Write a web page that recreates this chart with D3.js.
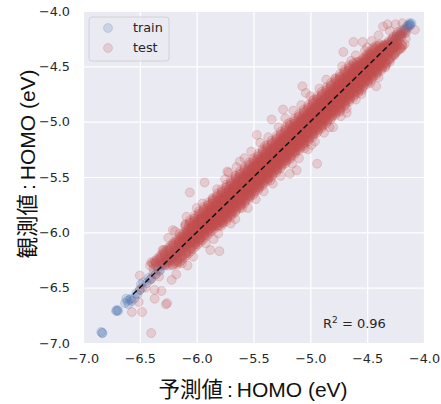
<!DOCTYPE html>
<html><head><meta charset="utf-8">
<script src="https://cdn.jsdelivr.net/npm/d3@7"></script>
<style>body{margin:0;background:#fff}</style>
</head><body>
<script>
// ---- data ----
const xTicks = [-7.0,-6.5,-6.0,-5.5,-5.0,-4.5,-4.0];
const yTicks = [-7.0,-6.5,-6.0,-5.5,-5.0,-4.5,-4.0];
const xLabelParts = ["予測値", ":", "HOMO (eV)"];
const yLabelParts = ["観測値", ":", "HOMO (eV)"];
const seriesNames = ["train","test"];
const r2Text = "0.96";
const diagRange = [-6.56,-4.28];
// train: [predicted, observed]
const trainPts = [[-6.83,-6.91],[-6.83,-6.91],[-6.84,-6.90],[-6.71,-6.71],[-6.69,-6.71],[-6.70,-6.70],[-6.70,-6.71],[-6.63,-6.64],[-6.61,-6.62],[-6.59,-6.61],[-6.62,-6.60],[-6.57,-6.62],[-6.60,-6.65],[-6.55,-6.60],[-6.58,-6.60],[-6.52,-6.56],[-6.50,-6.52],[-6.48,-6.50],[-6.47,-6.45],[-6.44,-6.46],[-6.42,-6.41],[-6.40,-6.42],[-6.38,-6.37],[-6.36,-6.38],[-6.34,-6.33],[-6.32,-6.34],[-6.30,-6.29],[-6.28,-6.30],[-6.26,-6.25],[-6.24,-6.26],[-6.22,-6.21],[-6.20,-6.22],[-6.18,-6.17],[-6.16,-6.18],[-6.14,-6.13],[-6.12,-6.14],[-6.10,-6.09],[-6.08,-6.10],[-6.06,-6.05],[-6.04,-6.06],[-6.02,-6.01],[-6.00,-6.02],[-5.97,-5.96],[-5.94,-5.95],[-5.90,-5.89],[-5.86,-5.87],[-5.80,-5.80],[-5.75,-5.76],[-5.70,-5.69],[-5.60,-5.61],[-5.50,-5.50],[-5.40,-5.41],[-5.30,-5.29],[-5.20,-5.21],[-5.10,-5.10],[-5.00,-5.01],[-4.90,-4.89],[-4.80,-4.81],[-4.70,-4.70],[-4.60,-4.61],[-4.50,-4.49],[-4.45,-4.46],[-4.40,-4.40],[-4.36,-4.37],[-4.33,-4.32],[-4.30,-4.31],[-4.28,-4.27],[-4.26,-4.27],[-4.24,-4.23],[-4.22,-4.23],[-4.20,-4.20],[-4.18,-4.17],[-4.16,-4.17],[-4.15,-4.14],[-4.13,-4.13],[-4.12,-4.12],[-4.11,-4.11],[-4.12,-4.13],[-4.14,-4.15],[-4.13,-4.11],[-6.53,-6.55],[-6.49,-6.47],[-6.41,-6.43],[-6.33,-6.35],[-6.25,-6.24],[-6.19,-6.20],[-6.11,-6.12],[-6.03,-6.04],[-4.25,-4.25],[-4.21,-4.22],[-4.17,-4.16],[-4.14,-4.13]];
// test rows (medium spread): [observed, [predicted values at that observed value]]
const testRows = [
[-6.30,[-6.36,-6.30,-6.25]],[-6.29,[-6.32,-6.27,-6.21]],[-6.28,[-6.36,-6.30,-6.25]],[-6.27,[-6.31,-6.26,-6.17]],
[-6.26,[-6.32,-6.26,-6.21]],[-6.25,[-6.28,-6.23,-6.17]],[-6.24,[-6.32,-6.26,-6.21]],[-6.23,[-6.27,-6.22,-6.13]],
[-6.22,[-6.28,-6.22,-6.17]],[-6.21,[-6.24,-6.19,-6.13]],[-6.20,[-6.28,-6.22,-6.17]],[-6.19,[-6.23,-6.18,-6.09]],
[-6.18,[-6.24,-6.18,-6.13]],[-6.17,[-6.20,-6.15,-6.09]],[-6.16,[-6.24,-6.18,-6.13]],[-6.15,[-6.19,-6.14,-6.05]],
[-6.14,[-6.20,-6.14,-6.09]],[-6.13,[-6.16,-6.11,-6.05]],[-6.12,[-6.20,-6.14,-6.09]],[-6.11,[-6.15,-6.10,-6.01]],
[-6.10,[-6.16,-6.10,-6.05]],[-6.09,[-6.12,-6.07,-6.01]],[-6.08,[-6.16,-6.10,-6.05]],[-6.07,[-6.11,-6.06,-5.97]],
[-6.06,[-6.12,-6.06,-6.01]],[-6.05,[-6.08,-6.03,-5.97]],[-6.04,[-6.12,-6.06,-6.01]],[-6.03,[-6.07,-6.02,-5.93]],
[-6.02,[-6.08,-6.02,-5.97]],[-6.01,[-6.04,-5.99,-5.93]],[-6.00,[-6.08,-6.02,-5.97]],[-5.99,[-6.03,-5.98,-5.89]],
[-5.98,[-6.04,-5.98,-5.93]],[-5.97,[-6.00,-5.95,-5.89]],[-5.96,[-6.04,-5.98,-5.93]],
[-5.95,[-6.04,-5.99,-5.96,-5.93,-5.90,-5.85]],[-5.94,[-6.00,-5.97,-5.94,-5.91,-5.87,-5.82]],[-5.93,[-6.04,-5.98,-5.95,-5.92,-5.89,-5.85]],
[-5.92,[-5.99,-5.94,-5.91,-5.88,-5.86,-5.83]],[-5.91,[-5.99,-5.96,-5.92,-5.88,-5.85,-5.78]],[-5.90,[-6.02,-5.96,-5.93,-5.90,-5.88,-5.83]],
[-5.89,[-5.94,-5.91,-5.87,-5.84,-5.81,-5.78]],[-5.88,[-5.98,-5.95,-5.91,-5.87,-5.84,-5.82]],[-5.87,[-5.96,-5.91,-5.88,-5.85,-5.82,-5.77]],
[-5.86,[-5.92,-5.89,-5.86,-5.83,-5.79,-5.74]],[-5.85,[-5.96,-5.90,-5.87,-5.84,-5.81,-5.77]],[-5.84,[-5.91,-5.86,-5.83,-5.80,-5.78,-5.75]],
[-5.83,[-5.91,-5.88,-5.84,-5.80,-5.77,-5.70]],[-5.82,[-5.94,-5.88,-5.85,-5.82,-5.80,-5.75]],[-5.81,[-5.86,-5.83,-5.79,-5.76,-5.73,-5.70]],
[-5.80,[-5.90,-5.87,-5.83,-5.79,-5.76,-5.74]],[-5.79,[-5.88,-5.83,-5.80,-5.77,-5.74,-5.69]],[-5.78,[-5.84,-5.81,-5.78,-5.75,-5.71,-5.66]],
[-5.77,[-5.88,-5.82,-5.79,-5.76,-5.73,-5.69]],[-5.76,[-5.83,-5.78,-5.75,-5.72,-5.70,-5.67]],[-5.75,[-5.83,-5.80,-5.76,-5.72,-5.69,-5.62]],
[-5.74,[-5.86,-5.80,-5.77,-5.74,-5.72,-5.67]],[-5.73,[-5.78,-5.75,-5.71,-5.68,-5.65,-5.62]],[-5.72,[-5.82,-5.79,-5.75,-5.71,-5.68,-5.66]],
[-5.71,[-5.80,-5.75,-5.72,-5.69,-5.66,-5.61]],[-5.70,[-5.76,-5.73,-5.70,-5.67,-5.63,-5.58]],[-5.69,[-5.80,-5.74,-5.71,-5.68,-5.65,-5.61]],
[-5.68,[-5.75,-5.70,-5.67,-5.64,-5.62,-5.59]],[-5.67,[-5.75,-5.72,-5.68,-5.64,-5.61,-5.54]],[-5.66,[-5.78,-5.72,-5.69,-5.66,-5.64,-5.59]],
[-5.65,[-5.70,-5.67,-5.63,-5.60,-5.57,-5.54]],[-5.64,[-5.74,-5.71,-5.67,-5.63,-5.60,-5.58]],[-5.63,[-5.72,-5.67,-5.64,-5.61,-5.58,-5.53]],
[-5.62,[-5.68,-5.65,-5.62,-5.59,-5.55,-5.50]],[-5.61,[-5.72,-5.66,-5.63,-5.60,-5.57,-5.53]],[-5.60,[-5.67,-5.62,-5.59,-5.56,-5.54,-5.51]],
[-5.59,[-5.67,-5.64,-5.60,-5.56,-5.53,-5.46]],[-5.58,[-5.70,-5.64,-5.61,-5.58,-5.56,-5.51]],[-5.57,[-5.62,-5.59,-5.55,-5.52,-5.49,-5.46]],
[-5.56,[-5.66,-5.63,-5.59,-5.55,-5.52,-5.50]],[-5.55,[-5.64,-5.59,-5.56,-5.53,-5.50,-5.45]],[-5.54,[-5.60,-5.57,-5.54,-5.51,-5.47,-5.42]],
[-5.53,[-5.64,-5.58,-5.55,-5.52,-5.49,-5.45]],[-5.52,[-5.59,-5.54,-5.51,-5.48,-5.46,-5.43]],[-5.51,[-5.59,-5.56,-5.52,-5.48,-5.45,-5.38]],
[-5.50,[-5.62,-5.56,-5.53,-5.50,-5.48,-5.43]],[-5.49,[-5.54,-5.51,-5.47,-5.44,-5.41,-5.38]],[-5.48,[-5.58,-5.55,-5.51,-5.47,-5.44,-5.42]],
[-5.47,[-5.56,-5.51,-5.48,-5.45,-5.42,-5.37]],[-5.46,[-5.52,-5.49,-5.46,-5.43,-5.39,-5.34]],[-5.45,[-5.56,-5.50,-5.47,-5.44,-5.41,-5.37]],
[-5.44,[-5.51,-5.46,-5.43,-5.40,-5.38,-5.35]],[-5.43,[-5.51,-5.48,-5.44,-5.40,-5.37,-5.30]],[-5.42,[-5.54,-5.48,-5.45,-5.42,-5.40,-5.35]],
[-5.41,[-5.46,-5.43,-5.39,-5.36,-5.33,-5.30]],[-5.40,[-5.50,-5.47,-5.43,-5.39,-5.36,-5.34]],[-5.39,[-5.48,-5.43,-5.40,-5.37,-5.34,-5.29]],
[-5.38,[-5.44,-5.41,-5.38,-5.35,-5.31,-5.26]],[-5.37,[-5.48,-5.42,-5.39,-5.36,-5.33,-5.29]],[-5.36,[-5.43,-5.38,-5.35,-5.32,-5.30,-5.27]],
[-5.35,[-5.43,-5.40,-5.36,-5.32,-5.29,-5.22]],[-5.34,[-5.46,-5.40,-5.37,-5.34,-5.32,-5.27]],[-5.33,[-5.38,-5.35,-5.31,-5.28,-5.25,-5.22]],
[-5.32,[-5.42,-5.39,-5.35,-5.31,-5.28,-5.26]],[-5.31,[-5.40,-5.35,-5.32,-5.29,-5.26,-5.21]],[-5.30,[-5.36,-5.33,-5.30,-5.27,-5.23,-5.18]],
[-5.29,[-5.40,-5.34,-5.31,-5.28,-5.25,-5.21]],[-5.28,[-5.35,-5.30,-5.27,-5.24,-5.22,-5.19]],[-5.27,[-5.35,-5.32,-5.28,-5.24,-5.21,-5.14]],
[-5.26,[-5.38,-5.32,-5.29,-5.26,-5.24,-5.19]],[-5.25,[-5.30,-5.27,-5.23,-5.20,-5.17,-5.14]],[-5.24,[-5.34,-5.31,-5.27,-5.23,-5.20,-5.18]],
[-5.23,[-5.32,-5.27,-5.24,-5.21,-5.18,-5.13]],[-5.22,[-5.28,-5.25,-5.22,-5.19,-5.15,-5.10]],[-5.21,[-5.32,-5.26,-5.23,-5.20,-5.17,-5.13]],
[-5.20,[-5.27,-5.22,-5.19,-5.16,-5.14,-5.11]],[-5.19,[-5.27,-5.24,-5.20,-5.16,-5.13,-5.06]],[-5.18,[-5.30,-5.24,-5.21,-5.18,-5.16,-5.11]],
[-5.17,[-5.22,-5.19,-5.15,-5.12,-5.09,-5.06]],[-5.16,[-5.26,-5.23,-5.19,-5.15,-5.12,-5.10]],[-5.15,[-5.24,-5.19,-5.16,-5.13,-5.10,-5.05]],
[-5.14,[-5.20,-5.17,-5.14,-5.11,-5.07,-5.02]],[-5.13,[-5.24,-5.18,-5.15,-5.12,-5.09,-5.05]],[-5.12,[-5.19,-5.14,-5.11,-5.08,-5.06,-5.03]],
[-5.11,[-5.19,-5.16,-5.12,-5.08,-5.05,-4.98]],[-5.10,[-5.22,-5.16,-5.13,-5.10,-5.08,-5.03]],[-5.09,[-5.14,-5.11,-5.07,-5.04,-5.01,-4.98]],
[-5.08,[-5.18,-5.15,-5.11,-5.07,-5.04,-5.02]],[-5.07,[-5.16,-5.11,-5.08,-5.05,-5.02,-4.97]],[-5.06,[-5.12,-5.09,-5.06,-5.03,-4.99,-4.94]],
[-5.05,[-5.16,-5.10,-5.07,-5.04,-5.01,-4.97]],[-5.04,[-5.11,-5.06,-5.03,-5.00,-4.98,-4.95]],[-5.03,[-5.11,-5.08,-5.04,-5.00,-4.97,-4.90]],
[-5.02,[-5.14,-5.08,-5.05,-5.02,-5.00,-4.95]],[-5.01,[-5.06,-5.03,-4.99,-4.96,-4.93,-4.90]],[-5.00,[-5.10,-5.07,-5.03,-4.99,-4.96,-4.94]],
[-4.99,[-5.08,-5.03,-5.00,-4.97,-4.94,-4.89]],[-4.98,[-5.04,-5.01,-4.98,-4.95,-4.91,-4.86]],[-4.97,[-5.08,-5.02,-4.99,-4.96,-4.93,-4.89]],
[-4.96,[-5.03,-4.98,-4.95,-4.92,-4.90,-4.87]],[-4.95,[-5.03,-5.00,-4.96,-4.92,-4.89,-4.82]],[-4.94,[-5.06,-5.00,-4.97,-4.94,-4.92,-4.87]],
[-4.93,[-4.98,-4.95,-4.91,-4.88,-4.85,-4.82]],[-4.92,[-5.02,-4.99,-4.95,-4.91,-4.88,-4.86]],[-4.91,[-5.00,-4.95,-4.92,-4.89,-4.86,-4.81]],
[-4.90,[-4.96,-4.93,-4.90,-4.87,-4.83,-4.78]],[-4.89,[-5.00,-4.94,-4.91,-4.88,-4.85,-4.81]],[-4.88,[-4.95,-4.90,-4.87,-4.84,-4.82,-4.79]],
[-4.87,[-4.95,-4.92,-4.88,-4.84,-4.81,-4.74]],[-4.86,[-4.98,-4.92,-4.89,-4.86,-4.84,-4.79]],[-4.85,[-4.90,-4.87,-4.83,-4.80,-4.77,-4.74]],
[-4.84,[-4.94,-4.91,-4.87,-4.83,-4.80,-4.78]],[-4.83,[-4.92,-4.87,-4.84,-4.81,-4.78,-4.73]],[-4.82,[-4.88,-4.85,-4.82,-4.79,-4.75,-4.70]],
[-4.81,[-4.92,-4.86,-4.83,-4.80,-4.77,-4.73]],[-4.80,[-4.87,-4.82,-4.79,-4.76,-4.74,-4.71]],[-4.79,[-4.87,-4.84,-4.80,-4.76,-4.73,-4.66]],
[-4.78,[-4.90,-4.84,-4.81,-4.78,-4.76,-4.71]],[-4.77,[-4.82,-4.79,-4.75,-4.72,-4.69,-4.66]],[-4.76,[-4.86,-4.83,-4.79,-4.75,-4.72,-4.70]],
[-4.75,[-4.84,-4.79,-4.76,-4.73,-4.70,-4.65]],[-4.74,[-4.80,-4.77,-4.74,-4.71,-4.67,-4.62]],[-4.73,[-4.84,-4.78,-4.75,-4.72,-4.69,-4.65]],
[-4.72,[-4.79,-4.74,-4.71,-4.68,-4.66,-4.63]],[-4.71,[-4.79,-4.76,-4.72,-4.68,-4.65,-4.58]],[-4.70,[-4.82,-4.76,-4.73,-4.70,-4.68,-4.63]],
[-4.69,[-4.74,-4.71,-4.67,-4.64,-4.61,-4.58]],[-4.68,[-4.78,-4.75,-4.71,-4.67,-4.64,-4.62]],[-4.67,[-4.76,-4.71,-4.68,-4.65,-4.62,-4.57]],
[-4.66,[-4.72,-4.69,-4.66,-4.63,-4.59,-4.54]],[-4.65,[-4.76,-4.70,-4.67,-4.64,-4.61,-4.57]],[-4.64,[-4.71,-4.66,-4.63,-4.60,-4.58,-4.55]],
[-4.63,[-4.71,-4.68,-4.64,-4.60,-4.57,-4.50]],[-4.62,[-4.74,-4.68,-4.65,-4.62,-4.60,-4.55]],[-4.61,[-4.66,-4.63,-4.59,-4.56,-4.53,-4.50]],
[-4.60,[-4.70,-4.67,-4.63,-4.59,-4.56,-4.54]],[-4.59,[-4.68,-4.63,-4.60,-4.57,-4.54,-4.49]],[-4.58,[-4.64,-4.61,-4.58,-4.55,-4.51,-4.46]],
[-4.57,[-4.68,-4.62,-4.59,-4.56,-4.53,-4.49]],[-4.56,[-4.63,-4.58,-4.55,-4.52,-4.50,-4.47]],[-4.55,[-4.63,-4.60,-4.56,-4.52,-4.49,-4.42]],
[-4.54,[-4.66,-4.60,-4.57,-4.54,-4.52,-4.47]],[-4.53,[-4.58,-4.55,-4.51,-4.48,-4.45,-4.42]],[-4.52,[-4.62,-4.59,-4.55,-4.51,-4.48,-4.46]],
[-4.51,[-4.60,-4.55,-4.52,-4.49,-4.46,-4.41]],[-4.50,[-4.56,-4.53,-4.50,-4.47,-4.43,-4.38]],[-4.49,[-4.60,-4.54,-4.51,-4.48,-4.45,-4.41]],
[-4.48,[-4.55,-4.50,-4.47,-4.44,-4.42,-4.39]],[-4.47,[-4.55,-4.52,-4.48,-4.44,-4.41,-4.34]],[-4.46,[-4.58,-4.52,-4.49,-4.46,-4.44,-4.39]],
[-4.45,[-4.51,-4.47,-4.43,-4.39]],[-4.44,[-4.48,-4.44,-4.41,-4.36]],[-4.43,[-4.51,-4.46,-4.42,-4.39]],[-4.42,[-4.47,-4.43,-4.38,-4.35]],
[-4.41,[-4.47,-4.43,-4.39,-4.35]],[-4.40,[-4.44,-4.40,-4.37,-4.32]],[-4.39,[-4.47,-4.42,-4.38,-4.35]],[-4.38,[-4.43,-4.39,-4.34,-4.31]],
[-4.37,[-4.43,-4.39,-4.35,-4.31]],[-4.36,[-4.40,-4.36,-4.33,-4.28]],[-4.35,[-4.43,-4.38,-4.34,-4.31]],[-4.34,[-4.39,-4.35,-4.30,-4.27]],
[-4.33,[-4.39,-4.35,-4.31,-4.27]],[-4.32,[-4.36,-4.32,-4.29,-4.24]],[-4.31,[-4.39,-4.34,-4.30,-4.27]],[-4.30,[-4.35,-4.31,-4.26,-4.23]],
[-4.29,[-4.32,-4.27]],[-4.28,[-4.24,-4.29]],[-4.27,[-4.31,-4.24]],[-4.26,[-4.25,-4.28]],[-4.25,[-4.28,-4.23]],[-4.24,[-4.20,-4.25]],
[-4.23,[-4.27,-4.20]],[-4.22,[-4.21,-4.24]],[-4.21,[-4.24,-4.19]],[-4.20,[-4.16,-4.21]],[-4.19,[-4.23,-4.16]],[-4.18,[-4.17,-4.20]]
];
// test rows (wider spread part): [observed, [predicted values]]
const testRowsWide = [
[-6.30,[-6.41,-6.21]],[-6.29,[-6.38,-6.17]],[-6.28,[-6.39,-6.19]],[-6.27,[-6.36,-6.15]],[-6.26,[-6.37,-6.17]],[-6.25,[-6.34,-6.13]],
[-6.24,[-6.35,-6.15]],[-6.23,[-6.32,-6.11]],[-6.22,[-6.33,-6.13]],[-6.21,[-6.30,-6.09]],[-6.20,[-6.31,-6.11]],[-6.19,[-6.28,-6.07]],
[-6.18,[-6.29,-6.09]],[-6.17,[-6.26,-6.05]],[-6.16,[-6.27,-6.07]],[-6.15,[-6.24,-6.03]],[-6.14,[-6.25,-6.05]],[-6.13,[-6.22,-6.01]],
[-6.12,[-6.23,-6.03]],[-6.11,[-6.20,-5.99]],[-6.10,[-6.21,-6.01]],[-6.09,[-6.18,-5.97]],[-6.08,[-6.19,-5.99]],[-6.07,[-6.16,-5.95]],
[-6.06,[-6.17,-5.97]],[-6.05,[-6.14,-5.93]],[-6.04,[-6.15,-5.95]],[-6.03,[-6.12,-5.91]],[-6.02,[-6.13,-5.93]],[-6.01,[-6.10,-5.89]],
[-6.00,[-6.11,-5.91]],[-5.99,[-6.08,-5.87]],[-5.98,[-6.09,-5.89]],[-5.97,[-6.06,-5.85]],[-5.96,[-6.07,-5.87]],
[-5.95,[-6.10,-6.04,-5.99,-5.91,-5.86,-5.81]],[-5.94,[-6.07,-6.01,-5.96,-5.88,-5.83,-5.78]],[-5.93,[-6.10,-6.03,-5.98,-5.91,-5.85,-5.80]],[-5.92,[-6.06,-6.00,-5.95,-5.89,-5.82,-5.77]],
[-5.91,[-6.06,-6.00,-5.95,-5.87,-5.82,-5.77]],[-5.90,[-6.03,-5.97,-5.92,-5.84,-5.79,-5.74]],[-5.89,[-6.06,-5.99,-5.94,-5.87,-5.81,-5.76]],[-5.88,[-6.02,-5.96,-5.91,-5.85,-5.78,-5.73]],
[-5.87,[-6.02,-5.96,-5.91,-5.83,-5.78,-5.73]],[-5.86,[-5.99,-5.93,-5.88,-5.80,-5.75,-5.70]],[-5.85,[-6.02,-5.95,-5.90,-5.83,-5.77,-5.72]],[-5.84,[-5.98,-5.92,-5.87,-5.81,-5.74,-5.69]],
[-5.83,[-5.98,-5.92,-5.87,-5.79,-5.74,-5.69]],[-5.82,[-5.95,-5.89,-5.84,-5.76,-5.71,-5.66]],[-5.81,[-5.98,-5.91,-5.86,-5.79,-5.73,-5.68]],[-5.80,[-5.94,-5.88,-5.83,-5.77,-5.70,-5.65]],
[-5.79,[-5.94,-5.88,-5.83,-5.75,-5.70,-5.65]],[-5.78,[-5.91,-5.85,-5.80,-5.72,-5.67,-5.62]],[-5.77,[-5.94,-5.87,-5.82,-5.75,-5.69,-5.64]],[-5.76,[-5.90,-5.84,-5.79,-5.73,-5.66,-5.61]],
[-5.75,[-5.90,-5.84,-5.79,-5.71,-5.66,-5.61]],[-5.74,[-5.87,-5.81,-5.76,-5.68,-5.63,-5.58]],[-5.73,[-5.90,-5.83,-5.78,-5.71,-5.65,-5.60]],[-5.72,[-5.86,-5.80,-5.75,-5.69,-5.62,-5.57]],
[-5.71,[-5.86,-5.80,-5.75,-5.67,-5.62,-5.57]],[-5.70,[-5.83,-5.77,-5.72,-5.64,-5.59,-5.54]],[-5.69,[-5.86,-5.79,-5.74,-5.67,-5.61,-5.56]],[-5.68,[-5.82,-5.76,-5.71,-5.65,-5.58,-5.53]],
[-5.67,[-5.82,-5.76,-5.71,-5.63,-5.58,-5.53]],[-5.66,[-5.79,-5.73,-5.68,-5.60,-5.55,-5.50]],[-5.65,[-5.82,-5.75,-5.70,-5.63,-5.57,-5.52]],[-5.64,[-5.78,-5.72,-5.67,-5.61,-5.54,-5.49]],
[-5.63,[-5.78,-5.72,-5.67,-5.59,-5.54,-5.49]],[-5.62,[-5.75,-5.69,-5.64,-5.56,-5.51,-5.46]],[-5.61,[-5.78,-5.71,-5.66,-5.59,-5.53,-5.48]],[-5.60,[-5.74,-5.68,-5.63,-5.57,-5.50,-5.45]],
[-5.59,[-5.74,-5.68,-5.63,-5.55,-5.50,-5.45]],[-5.58,[-5.71,-5.65,-5.60,-5.52,-5.47,-5.42]],[-5.57,[-5.74,-5.67,-5.62,-5.55,-5.49,-5.44]],[-5.56,[-5.70,-5.64,-5.59,-5.53,-5.46,-5.41]],
[-5.55,[-5.70,-5.64,-5.59,-5.51,-5.46,-5.41]],[-5.54,[-5.67,-5.61,-5.56,-5.48,-5.43,-5.38]],[-5.53,[-5.70,-5.63,-5.58,-5.51,-5.45,-5.40]],[-5.52,[-5.66,-5.60,-5.55,-5.49,-5.42,-5.37]],
[-5.51,[-5.66,-5.60,-5.55,-5.47,-5.42,-5.37]],[-5.50,[-5.63,-5.57,-5.52,-5.44,-5.39,-5.34]],[-5.49,[-5.66,-5.59,-5.54,-5.47,-5.41,-5.36]],[-5.48,[-5.62,-5.56,-5.51,-5.45,-5.38,-5.33]],
[-5.47,[-5.62,-5.56,-5.51,-5.43,-5.38,-5.33]],[-5.46,[-5.59,-5.53,-5.48,-5.40,-5.35,-5.30]],[-5.45,[-5.62,-5.55,-5.50,-5.43,-5.37,-5.32]],[-5.44,[-5.58,-5.52,-5.47,-5.41,-5.34,-5.29]],
[-5.43,[-5.58,-5.52,-5.47,-5.39,-5.34,-5.29]],[-5.42,[-5.55,-5.49,-5.44,-5.36,-5.31,-5.26]],[-5.41,[-5.58,-5.51,-5.46,-5.39,-5.33,-5.28]],[-5.40,[-5.54,-5.48,-5.43,-5.37,-5.30,-5.25]],
[-5.39,[-5.54,-5.48,-5.43,-5.35,-5.30,-5.25]],[-5.38,[-5.51,-5.45,-5.40,-5.32,-5.27,-5.22]],[-5.37,[-5.54,-5.47,-5.42,-5.35,-5.29,-5.24]],[-5.36,[-5.50,-5.44,-5.39,-5.33,-5.26,-5.21]],
[-5.35,[-5.50,-5.44,-5.39,-5.31,-5.26,-5.21]],[-5.34,[-5.47,-5.41,-5.36,-5.28,-5.23,-5.18]],[-5.33,[-5.50,-5.43,-5.38,-5.31,-5.25,-5.20]],[-5.32,[-5.46,-5.40,-5.35,-5.29,-5.22,-5.17]],
[-5.31,[-5.46,-5.40,-5.35,-5.27,-5.22,-5.17]],[-5.30,[-5.43,-5.37,-5.32,-5.24,-5.19,-5.14]],[-5.29,[-5.46,-5.39,-5.34,-5.27,-5.21,-5.16]],[-5.28,[-5.42,-5.36,-5.31,-5.25,-5.18,-5.13]],
[-5.27,[-5.42,-5.36,-5.31,-5.23,-5.18,-5.13]],[-5.26,[-5.39,-5.33,-5.28,-5.20,-5.15,-5.10]],[-5.25,[-5.42,-5.35,-5.30,-5.23,-5.17,-5.12]],[-5.24,[-5.38,-5.32,-5.27,-5.21,-5.14,-5.09]],
[-5.23,[-5.38,-5.32,-5.27,-5.19,-5.14,-5.09]],[-5.22,[-5.35,-5.29,-5.24,-5.16,-5.11,-5.06]],[-5.21,[-5.38,-5.31,-5.26,-5.19,-5.13,-5.08]],[-5.20,[-5.34,-5.28,-5.23,-5.17,-5.10,-5.05]],
[-5.19,[-5.34,-5.28,-5.23,-5.15,-5.10,-5.05]],[-5.18,[-5.31,-5.25,-5.20,-5.12,-5.07,-5.02]],[-5.17,[-5.34,-5.27,-5.22,-5.15,-5.09,-5.04]],[-5.16,[-5.30,-5.24,-5.19,-5.13,-5.06,-5.01]],
[-5.15,[-5.30,-5.24,-5.19,-5.11,-5.06,-5.01]],[-5.14,[-5.27,-5.21,-5.16,-5.08,-5.03,-4.98]],[-5.13,[-5.30,-5.23,-5.18,-5.11,-5.05,-5.00]],[-5.12,[-5.26,-5.20,-5.15,-5.09,-5.02,-4.97]],
[-5.11,[-5.26,-5.20,-5.15,-5.07,-5.02,-4.97]],[-5.10,[-5.23,-5.17,-5.12,-5.04,-4.99,-4.94]],[-5.09,[-5.26,-5.19,-5.14,-5.07,-5.01,-4.96]],[-5.08,[-5.22,-5.16,-5.11,-5.05,-4.98,-4.93]],
[-5.07,[-5.22,-5.16,-5.11,-5.03,-4.98,-4.93]],[-5.06,[-5.19,-5.13,-5.08,-5.00,-4.95,-4.90]],[-5.05,[-5.22,-5.15,-5.10,-5.03,-4.97,-4.92]],[-5.04,[-5.18,-5.12,-5.07,-5.01,-4.94,-4.89]],
[-5.03,[-5.18,-5.12,-5.07,-4.99,-4.94,-4.89]],[-5.02,[-5.15,-5.09,-5.04,-4.96,-4.91,-4.86]],[-5.01,[-5.18,-5.11,-5.06,-4.99,-4.93,-4.88]],[-5.00,[-5.14,-5.08,-5.03,-4.97,-4.90,-4.85]],
[-4.99,[-5.14,-5.08,-5.03,-4.95,-4.90,-4.85]],[-4.98,[-5.11,-5.05,-5.00,-4.92,-4.87,-4.82]],[-4.97,[-5.14,-5.07,-5.02,-4.95,-4.89,-4.84]],[-4.96,[-5.10,-5.04,-4.99,-4.93,-4.86,-4.81]],
[-4.95,[-5.10,-5.04,-4.99,-4.91,-4.86,-4.81]],[-4.94,[-5.07,-5.01,-4.96,-4.88,-4.83,-4.78]],[-4.93,[-5.10,-5.03,-4.98,-4.91,-4.85,-4.80]],[-4.92,[-5.06,-5.00,-4.95,-4.89,-4.82,-4.77]],
[-4.91,[-5.06,-5.00,-4.95,-4.87,-4.82,-4.77]],[-4.90,[-5.03,-4.97,-4.92,-4.84,-4.79,-4.74]],[-4.89,[-5.06,-4.99,-4.94,-4.87,-4.81,-4.76]],[-4.88,[-5.02,-4.96,-4.91,-4.85,-4.78,-4.73]],
[-4.87,[-5.02,-4.96,-4.91,-4.83,-4.78,-4.73]],[-4.86,[-4.99,-4.93,-4.88,-4.80,-4.75,-4.70]],[-4.85,[-5.02,-4.95,-4.90,-4.83,-4.77,-4.72]],[-4.84,[-4.98,-4.92,-4.87,-4.81,-4.74,-4.69]],
[-4.83,[-4.98,-4.92,-4.87,-4.79,-4.74,-4.69]],[-4.82,[-4.95,-4.89,-4.84,-4.76,-4.71,-4.66]],[-4.81,[-4.98,-4.91,-4.86,-4.79,-4.73,-4.68]],[-4.80,[-4.94,-4.88,-4.83,-4.77,-4.70,-4.65]],
[-4.79,[-4.94,-4.88,-4.83,-4.75,-4.70,-4.65]],[-4.78,[-4.91,-4.85,-4.80,-4.72,-4.67,-4.62]],[-4.77,[-4.94,-4.87,-4.82,-4.75,-4.69,-4.64]],[-4.76,[-4.90,-4.84,-4.79,-4.73,-4.66,-4.61]],
[-4.75,[-4.90,-4.84,-4.79,-4.71,-4.66,-4.61]],[-4.74,[-4.87,-4.81,-4.76,-4.68,-4.63,-4.58]],[-4.73,[-4.90,-4.83,-4.78,-4.71,-4.65,-4.60]],[-4.72,[-4.86,-4.80,-4.75,-4.69,-4.62,-4.57]],
[-4.71,[-4.86,-4.80,-4.75,-4.67,-4.62,-4.57]],[-4.70,[-4.83,-4.77,-4.72,-4.64,-4.59,-4.54]],[-4.69,[-4.86,-4.79,-4.74,-4.67,-4.61,-4.56]],[-4.68,[-4.82,-4.76,-4.71,-4.65,-4.58,-4.53]],
[-4.67,[-4.82,-4.76,-4.71,-4.63,-4.58,-4.53]],[-4.66,[-4.79,-4.73,-4.68,-4.60,-4.55,-4.50]],[-4.65,[-4.82,-4.75,-4.70,-4.63,-4.57,-4.52]],[-4.64,[-4.78,-4.72,-4.67,-4.61,-4.54,-4.49]],
[-4.63,[-4.78,-4.72,-4.67,-4.59,-4.54,-4.49]],[-4.62,[-4.75,-4.69,-4.64,-4.56,-4.51,-4.46]],[-4.61,[-4.78,-4.71,-4.66,-4.59,-4.53,-4.48]],[-4.60,[-4.74,-4.68,-4.63,-4.57,-4.50,-4.45]],
[-4.59,[-4.74,-4.68,-4.63,-4.55,-4.50,-4.45]],[-4.58,[-4.71,-4.65,-4.60,-4.52,-4.47,-4.42]],[-4.57,[-4.74,-4.67,-4.62,-4.55,-4.49,-4.44]],[-4.56,[-4.70,-4.64,-4.59,-4.53,-4.46,-4.41]],
[-4.55,[-4.70,-4.64,-4.59,-4.51,-4.46,-4.41]],[-4.54,[-4.67,-4.61,-4.56,-4.48,-4.43,-4.38]],[-4.53,[-4.70,-4.63,-4.58,-4.51,-4.45,-4.40]],[-4.52,[-4.66,-4.60,-4.55,-4.49,-4.42,-4.37]],
[-4.51,[-4.66,-4.60,-4.55,-4.47,-4.42,-4.37]],[-4.50,[-4.63,-4.57,-4.52,-4.44,-4.39,-4.34]],[-4.49,[-4.66,-4.59,-4.54,-4.47,-4.41,-4.36]],[-4.48,[-4.62,-4.56,-4.51,-4.45,-4.38,-4.33]],
[-4.47,[-4.62,-4.56,-4.51,-4.43,-4.38,-4.33]],[-4.46,[-4.59,-4.53,-4.48,-4.40,-4.35,-4.30]],
[-4.45,[-4.56,-4.49,-4.40,-4.33]],[-4.44,[-4.53,-4.46,-4.37,-4.31]],[-4.43,[-4.54,-4.47,-4.38,-4.31]],[-4.42,[-4.51,-4.44,-4.35,-4.29]],
[-4.41,[-4.52,-4.45,-4.36,-4.29]],[-4.40,[-4.49,-4.42,-4.33,-4.27]],[-4.39,[-4.50,-4.43,-4.34,-4.27]],[-4.38,[-4.47,-4.40,-4.31,-4.25]],
[-4.37,[-4.48,-4.41,-4.32,-4.25]],[-4.36,[-4.45,-4.38,-4.29,-4.23]],[-4.35,[-4.46,-4.39,-4.30,-4.23]],[-4.34,[-4.43,-4.36,-4.27,-4.21]],
[-4.33,[-4.44,-4.37,-4.28,-4.21]],[-4.32,[-4.41,-4.34,-4.25,-4.19]],[-4.31,[-4.42,-4.35,-4.26,-4.19]],[-4.30,[-4.39,-4.32,-4.23,-4.17]]
];
// test rows (tight core): [observed, [predicted values]]
const testRowsTight = [
[-6.10,[-6.16,-6.12,-6.08,-6.05]],[-6.09,[-6.13,-6.10,-6.06,-6.02]],[-6.08,[-6.15,-6.11,-6.08,-6.04]],[-6.07,[-6.12,-6.07,-6.06,-6.01]],
[-6.06,[-6.12,-6.08,-6.04,-6.01]],[-6.05,[-6.09,-6.06,-6.02,-5.98]],[-6.04,[-6.11,-6.07,-6.04,-6.00]],[-6.03,[-6.08,-6.03,-6.02,-5.97]],
[-6.02,[-6.08,-6.04,-6.00,-5.97]],[-6.01,[-6.05,-6.02,-5.98,-5.94]],[-6.00,[-6.07,-6.03,-6.00,-5.96]],[-5.99,[-6.04,-5.99,-5.98,-5.93]],
[-5.98,[-6.04,-6.00,-5.96,-5.93]],[-5.97,[-6.01,-5.98,-5.94,-5.90]],[-5.96,[-6.03,-5.99,-5.96,-5.92]],[-5.95,[-6.00,-5.95,-5.94,-5.89]],
[-5.94,[-6.00,-5.96,-5.92,-5.89]],[-5.93,[-5.97,-5.94,-5.90,-5.86]],[-5.92,[-5.99,-5.95,-5.92,-5.88]],[-5.91,[-5.96,-5.91,-5.90,-5.85]],
[-5.90,[-5.96,-5.92,-5.88,-5.85]],[-5.89,[-5.93,-5.90,-5.86,-5.82]],[-5.88,[-5.95,-5.91,-5.88,-5.84]],[-5.87,[-5.92,-5.87,-5.86,-5.81]],
[-5.86,[-5.92,-5.88,-5.84,-5.81]],[-5.85,[-5.89,-5.86,-5.82,-5.78]],[-5.84,[-5.91,-5.87,-5.84,-5.80]],[-5.83,[-5.88,-5.83,-5.82,-5.77]],
[-5.82,[-5.88,-5.84,-5.80,-5.77]],[-5.81,[-5.85,-5.82,-5.78,-5.74]],[-5.80,[-5.87,-5.83,-5.80,-5.76]],[-5.79,[-5.84,-5.79,-5.78,-5.73]],
[-5.78,[-5.84,-5.80,-5.76,-5.73]],[-5.77,[-5.81,-5.78,-5.74,-5.70]],[-5.76,[-5.83,-5.79,-5.76,-5.72]],[-5.75,[-5.80,-5.75,-5.74,-5.69]],
[-5.74,[-5.80,-5.76,-5.72,-5.69]],[-5.73,[-5.77,-5.74,-5.70,-5.66]],[-5.72,[-5.79,-5.75,-5.72,-5.68]],[-5.71,[-5.76,-5.71,-5.70,-5.65]],
[-5.70,[-5.76,-5.72,-5.68,-5.65]],[-5.69,[-5.73,-5.70,-5.66,-5.62]],[-5.68,[-5.75,-5.71,-5.68,-5.64]],[-5.67,[-5.72,-5.67,-5.66,-5.61]],
[-5.66,[-5.72,-5.68,-5.64,-5.61]],[-5.65,[-5.69,-5.66,-5.62,-5.58]],[-5.64,[-5.71,-5.67,-5.64,-5.60]],[-5.63,[-5.68,-5.63,-5.62,-5.57]],
[-5.62,[-5.68,-5.64,-5.60,-5.57]],[-5.61,[-5.65,-5.62,-5.58,-5.54]],[-5.60,[-5.67,-5.63,-5.60,-5.56]],[-5.59,[-5.64,-5.59,-5.58,-5.53]],
[-5.58,[-5.64,-5.60,-5.56,-5.53]],[-5.57,[-5.61,-5.58,-5.54,-5.50]],[-5.56,[-5.63,-5.59,-5.56,-5.52]],[-5.55,[-5.60,-5.55,-5.54,-5.49]],
[-5.54,[-5.60,-5.56,-5.52,-5.49]],[-5.53,[-5.57,-5.54,-5.50,-5.46]],[-5.52,[-5.59,-5.55,-5.52,-5.48]],[-5.51,[-5.56,-5.51,-5.50,-5.45]],
[-5.50,[-5.56,-5.52,-5.48,-5.45]],[-5.49,[-5.53,-5.50,-5.46,-5.42]],[-5.48,[-5.55,-5.51,-5.48,-5.44]],[-5.47,[-5.52,-5.47,-5.46,-5.41]],
[-5.46,[-5.52,-5.48,-5.44,-5.41]],[-5.45,[-5.49,-5.46,-5.42,-5.38]],[-5.44,[-5.51,-5.47,-5.44,-5.40]],[-5.43,[-5.48,-5.43,-5.42,-5.37]],
[-5.42,[-5.48,-5.44,-5.40,-5.37]],[-5.41,[-5.45,-5.42,-5.38,-5.34]],[-5.40,[-5.47,-5.43,-5.40,-5.36]],[-5.39,[-5.44,-5.39,-5.38,-5.33]],
[-5.38,[-5.44,-5.40,-5.36,-5.33]],[-5.37,[-5.41,-5.38,-5.34,-5.30]],[-5.36,[-5.43,-5.39,-5.36,-5.32]],[-5.35,[-5.40,-5.35,-5.34,-5.29]],
[-5.34,[-5.40,-5.36,-5.32,-5.29]],[-5.33,[-5.37,-5.34,-5.30,-5.26]],[-5.32,[-5.39,-5.35,-5.32,-5.28]],[-5.31,[-5.36,-5.31,-5.30,-5.25]],
[-5.30,[-5.36,-5.32,-5.28,-5.25]],[-5.29,[-5.33,-5.30,-5.26,-5.22]],[-5.28,[-5.35,-5.31,-5.28,-5.24]],[-5.27,[-5.32,-5.27,-5.26,-5.21]],
[-5.26,[-5.32,-5.28,-5.24,-5.21]],[-5.25,[-5.29,-5.26,-5.22,-5.18]],[-5.24,[-5.31,-5.27,-5.24,-5.20]],[-5.23,[-5.28,-5.23,-5.22,-5.17]],
[-5.22,[-5.28,-5.24,-5.20,-5.17]],[-5.21,[-5.25,-5.22,-5.18,-5.14]],[-5.20,[-5.27,-5.23,-5.20,-5.16]],[-5.19,[-5.24,-5.19,-5.18,-5.13]],
[-5.18,[-5.24,-5.20,-5.16,-5.13]],[-5.17,[-5.21,-5.18,-5.14,-5.10]],[-5.16,[-5.23,-5.19,-5.16,-5.12]],[-5.15,[-5.20,-5.15,-5.14,-5.09]],
[-5.14,[-5.20,-5.16,-5.12,-5.09]],[-5.13,[-5.17,-5.14,-5.10,-5.06]],[-5.12,[-5.19,-5.15,-5.12,-5.08]],[-5.11,[-5.16,-5.11,-5.10,-5.05]],
[-5.10,[-5.16,-5.12,-5.08,-5.05]],[-5.09,[-5.13,-5.10,-5.06,-5.02]],[-5.08,[-5.15,-5.11,-5.08,-5.04]],[-5.07,[-5.12,-5.07,-5.06,-5.01]],
[-5.06,[-5.12,-5.08,-5.04,-5.01]],[-5.05,[-5.09,-5.06,-5.02,-4.98]],[-5.04,[-5.11,-5.07,-5.04,-5.00]],[-5.03,[-5.08,-5.03,-5.02,-4.97]],
[-5.02,[-5.08,-5.04,-5.00,-4.97]],[-5.01,[-5.05,-5.02,-4.98,-4.94]],[-5.00,[-5.07,-5.03,-5.00,-4.96]],[-4.99,[-5.04,-4.99,-4.98,-4.93]],
[-4.98,[-5.04,-5.00,-4.96,-4.93]],[-4.97,[-5.01,-4.98,-4.94,-4.90]],[-4.96,[-5.03,-4.99,-4.96,-4.92]],[-4.95,[-5.00,-4.95,-4.94,-4.89]],
[-4.94,[-5.00,-4.96,-4.92,-4.89]],[-4.93,[-4.97,-4.94,-4.90,-4.86]],[-4.92,[-4.99,-4.95,-4.92,-4.88]],[-4.91,[-4.96,-4.91,-4.90,-4.85]],
[-4.90,[-4.96,-4.92,-4.88,-4.85]],[-4.89,[-4.93,-4.90,-4.86,-4.82]],[-4.88,[-4.95,-4.91,-4.88,-4.84]],[-4.87,[-4.92,-4.87,-4.86,-4.81]],
[-4.86,[-4.92,-4.88,-4.84,-4.81]],[-4.85,[-4.89,-4.86,-4.82,-4.78]],[-4.84,[-4.91,-4.87,-4.84,-4.80]],[-4.83,[-4.88,-4.83,-4.82,-4.77]],
[-4.82,[-4.88,-4.84,-4.80,-4.77]],[-4.81,[-4.85,-4.82,-4.78,-4.74]],[-4.80,[-4.87,-4.83,-4.80,-4.76]],[-4.79,[-4.84,-4.79,-4.78,-4.73]],
[-4.78,[-4.84,-4.80,-4.76,-4.73]],[-4.77,[-4.81,-4.78,-4.74,-4.70]],[-4.76,[-4.83,-4.79,-4.76,-4.72]],[-4.75,[-4.80,-4.75,-4.74,-4.69]],
[-4.74,[-4.80,-4.76,-4.72,-4.69]],[-4.73,[-4.77,-4.74,-4.70,-4.66]],[-4.72,[-4.79,-4.75,-4.72,-4.68]],[-4.71,[-4.76,-4.71,-4.70,-4.65]],
[-4.70,[-4.76,-4.72,-4.68,-4.65]],[-4.69,[-4.73,-4.70,-4.66,-4.62]],[-4.68,[-4.75,-4.71,-4.68,-4.64]],[-4.67,[-4.72,-4.67,-4.66,-4.61]],
[-4.66,[-4.72,-4.68,-4.64,-4.61]],[-4.65,[-4.69,-4.66,-4.62,-4.58]],[-4.64,[-4.71,-4.67,-4.64,-4.60]],[-4.63,[-4.68,-4.63,-4.62,-4.57]],
[-4.62,[-4.68,-4.64,-4.60,-4.57]],[-4.61,[-4.65,-4.62,-4.58,-4.54]],[-4.60,[-4.67,-4.63,-4.60,-4.56]],[-4.59,[-4.64,-4.59,-4.58,-4.53]],
[-4.58,[-4.64,-4.60,-4.56,-4.53]],[-4.57,[-4.61,-4.58,-4.54,-4.50]],[-4.56,[-4.63,-4.59,-4.56,-4.52]],[-4.55,[-4.60,-4.55,-4.54,-4.49]],
[-4.54,[-4.60,-4.56,-4.52,-4.49]],[-4.53,[-4.57,-4.54,-4.50,-4.46]],[-4.52,[-4.59,-4.55,-4.52,-4.48]],[-4.51,[-4.56,-4.51,-4.50,-4.45]],
[-4.50,[-4.56,-4.52,-4.48,-4.45]],[-4.49,[-4.53,-4.50,-4.46,-4.42]],[-4.48,[-4.55,-4.51,-4.48,-4.44]],[-4.47,[-4.52,-4.47,-4.46,-4.41]],
[-4.46,[-4.52,-4.48,-4.44,-4.41]],[-4.45,[-4.49,-4.46,-4.42,-4.38]],[-4.44,[-4.51,-4.47,-4.44,-4.40]],[-4.43,[-4.48,-4.43,-4.42,-4.37]],
[-4.42,[-4.48,-4.44,-4.40,-4.37]],[-4.41,[-4.45,-4.42,-4.38,-4.34]],[-4.40,[-4.47,-4.43,-4.40,-4.36]]
];
// scattered test points: [predicted, observed]
const testOutliers = [
[-6.45,-6.50],[-6.40,-6.42],[-6.36,-6.38],[-6.33,-6.40],[-6.38,-6.33],[-6.50,-6.52],[-6.34,-6.31],
[-6.06,-5.64],[-5.93,-5.55],[-5.73,-5.45],[-5.62,-5.36],[-5.52,-5.27],[-5.47,-5.12],[-5.34,-4.98],[-5.07,-4.68],[-5.04,-4.74],[-5.12,-5.44],
[-5.18,-5.47],[-4.94,-5.38],[-4.99,-5.21],[-4.71,-4.37],[-4.54,-4.28],[-4.36,-4.14],[-4.32,-4.12],[-4.08,-4.17],[-4.20,-4.34],[-4.34,-4.51],
[-4.42,-4.68],[-4.68,-4.92],[-4.80,-5.05],[-5.24,-4.89],[-5.72,-5.46],[-5.80,-6.17],[-4.62,-4.28],[-6.15,-6.01],[-6.21,-5.98],[-6.29,-6.16],
[-6.50,-6.39],[-6.40,-6.91],[-6.26,-6.64],[-6.37,-6.60],[-6.48,-6.72],[-6.57,-6.72],[-6.51,-6.63],[-6.22,-6.43],[-6.13,-6.28],[-6.03,-6.22],
[-5.81,-6.01],[-5.97,-5.89],[-6.40,-6.27],[-6.30,-6.16],[-6.19,-5.99],[-6.09,-5.86],[-5.88,-6.16],[-6.37,-6.52],[-6.31,-6.53],[-6.27,-6.65],
[-5.86,-5.70],[-5.66,-5.49],[-5.40,-5.22],[-5.20,-5.02],[-4.97,-4.80],[-4.78,-4.61],[-5.60,-5.78],[-5.35,-5.53],[-5.05,-5.24],[-4.74,-4.91],
[-4.55,-4.72],[-4.30,-4.44],[-4.50,-4.33],[-4.25,-4.12],[-4.19,-4.11],
[-5.75,-5.52],[-5.58,-5.33],[-5.44,-5.19],[-5.28,-5.05],[-5.15,-4.90],[-5.00,-4.77],[-4.86,-4.62],[-4.72,-4.50],[-4.60,-4.40],[-4.46,-4.27],
[-5.70,-5.92],[-5.55,-5.78],[-5.41,-5.63],[-5.26,-5.49],[-5.10,-5.33],[-4.96,-5.18],[-4.83,-5.05],[-4.68,-4.88],[-4.55,-4.75],[-4.40,-4.60],
[-5.95,-5.74],[-5.82,-5.61],[-5.65,-5.41],[-5.37,-5.14],[-5.22,-4.97],[-5.08,-4.85],[-4.92,-4.70],[-4.64,-4.45],[-4.52,-4.36],[-4.40,-4.22],
[-5.85,-6.06],[-5.66,-5.88],[-5.48,-5.70],[-5.33,-5.56],[-5.16,-5.38],[-5.02,-5.25],[-4.88,-5.10],[-4.73,-4.95],[-4.60,-4.80],[-4.47,-4.65],
[-6.00,-5.78],[-6.10,-5.93],[-6.25,-6.05],[-6.08,-6.30],[-6.18,-6.38],[-5.92,-6.10],[-4.30,-4.18],[-4.26,-4.40],[-4.20,-4.30],[-4.16,-4.25]
];

// ---- build point table ----
const testPts = [];
[testRows, testRowsWide, testRowsTight].forEach(rows =>
  rows.forEach(([obs, preds]) => preds.forEach(p => testPts.push([p, obs]))));
testOutliers.forEach(d => testPts.push(d));

// ---- layout ----
const W = 441, H = 404;
const L = 83, R = 424, T = 11, B = 343;
const colors = {train:"#4C72B0", test:"#C44E52"};
const alpha = 0.2, rad = 4.5;
const txt = "#262626";
const font = "'DejaVu Sans', sans-serif";

const svg = d3.select("body").append("svg").attr("width",W).attr("height",H);
const x = d3.scaleLinear().domain([-7,-4]).range([L,R]);
const y = d3.scaleLinear().domain([-7,-4]).range([B,T]);

svg.append("rect").attr("x",L).attr("y",T).attr("width",R-L).attr("height",B-T).attr("fill","#EAEAF2");

const fmt = d3.format(".1f");
const fmtM = v => fmt(v).replace("-","\u2212");
const gx = svg.append("g").attr("transform",`translate(0,${B})`)
  .call(d3.axisBottom(x).tickValues(xTicks).tickSize(-(B-T)).tickPadding(11).tickFormat(fmtM));
const gy = svg.append("g").attr("transform",`translate(${L},0)`)
  .call(d3.axisLeft(y).tickValues(yTicks).tickSize(-(R-L)).tickPadding(13).tickFormat(fmtM));
[gx,gy].forEach(g=>{
  g.select(".domain").remove();
  g.selectAll(".tick line").attr("stroke","#fff").attr("stroke-width",1.2);
  g.selectAll(".tick text").attr("fill",txt).attr("font-family",font).attr("font-size","12.8px");
});

const plot = svg.append("g");
function drawSeries(pts, c){
  plot.selectAll(null).data(pts).enter().append("circle")
    .attr("cx",d=>x(d[0])).attr("cy",d=>y(d[1])).attr("r",rad)
    .attr("fill",c).attr("fill-opacity",alpha)
    .attr("stroke",c).attr("stroke-opacity",alpha).attr("stroke-width",1);
}
drawSeries(trainPts, colors.train);
drawSeries(testPts, colors.test);

svg.append("line")
  .attr("x1",x(diagRange[0])).attr("y1",y(diagRange[0]))
  .attr("x2",x(diagRange[1])).attr("y2",y(diagRange[1]))
  .attr("stroke","#111").attr("stroke-width",1.5).attr("stroke-dasharray","5.5,3");

// legend
const lg = svg.append("g");
lg.append("rect").attr("x",89).attr("y",17).attr("width",80).attr("height",44).attr("rx",3)
  .attr("fill","#EAEAF2").attr("fill-opacity",0.8).attr("stroke","#cccccc").attr("stroke-width",0.8);
seriesNames.forEach((n,i)=>{
  const cy = 28 + i*20;
  lg.append("circle").attr("cx",108).attr("cy",cy).attr("r",rad)
    .attr("fill",colors[n]).attr("fill-opacity",alpha).attr("stroke",colors[n]).attr("stroke-opacity",alpha);
  lg.append("text").attr("x",133).attr("y",cy).attr("dy","0.35em").attr("fill",txt)
    .attr("font-family",font).attr("font-size","12.8px").text(n);
});

// R2
const rt = svg.append("text").attr("x",323).attr("y",328).attr("fill",txt)
  .attr("font-family",font).attr("font-size","13px");
rt.append("tspan").text("R");
rt.append("tspan").attr("dy",-5).attr("font-size","9px").text("2");
rt.append("tspan").attr("dy",5).text(" = " + r2Text);

// axis labels
const cjk = "'Noto Sans CJK JP', sans-serif";
const lat = "'Liberation Sans', Arial, sans-serif";
function axisLabel(sel, parts){
  sel.attr("text-anchor","middle").attr("fill","#111");
  sel.append("tspan").attr("font-family",cjk).attr("font-size","21.5px").text(parts[0]);
  sel.append("tspan").attr("dx",4).attr("font-family",lat).attr("font-size","21px").text(parts[1]);
  sel.append("tspan").attr("dx",4).attr("font-family",lat).attr("font-size","21px").text(parts[2]);
}
axisLabel(svg.append("text").attr("x",253).attr("y",397), xLabelParts);
axisLabel(svg.append("text").attr("transform","translate(34.5,164) rotate(-90)"), yLabelParts);
</script>
</body></html>
